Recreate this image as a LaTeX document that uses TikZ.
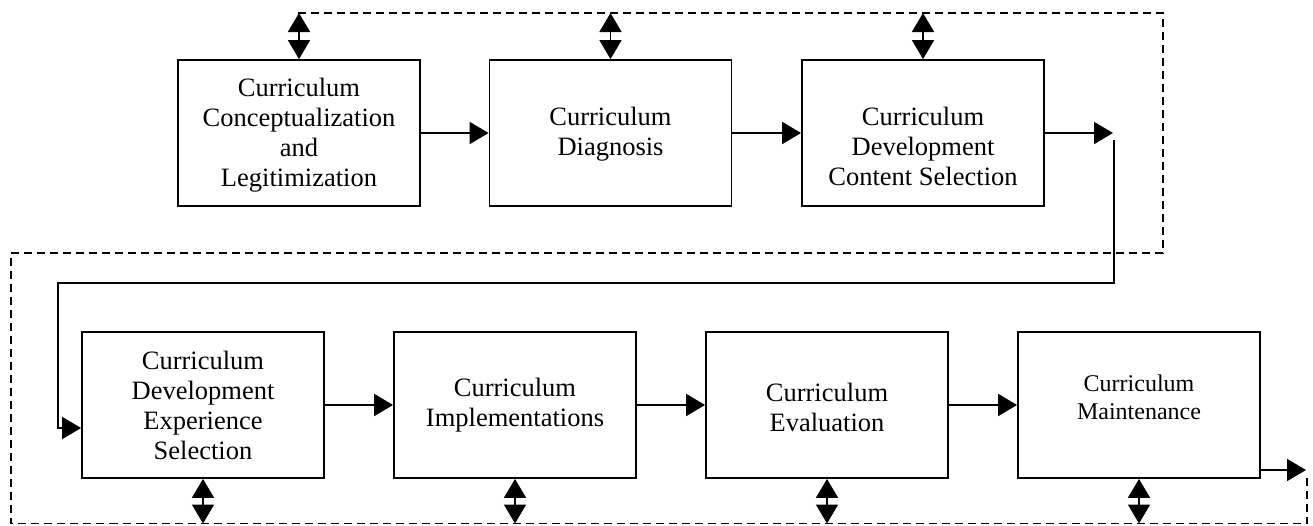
\documentclass[tikz,border=0pt]{standalone}
\usepackage{fontspec}
\setmainfont{Liberation Serif}
\usetikzlibrary{arrows.meta}
\begin{document}
\begin{tikzpicture}[x=1pt,y=-1pt,
  box/.style={draw,line width=1.8pt,minimum width=242pt,minimum height=146pt,inner sep=0pt},
  txt/.style={align=center,font=\fontsize{26.5}{30}\selectfont,inner sep=0pt},
  smalltxt/.style={align=center,font=\fontsize{24}{28}\selectfont,inner sep=0pt},
  flow/.style={line width=1.8pt,-{Triangle[length=19pt,width=22pt]}},
  both/.style={line width=1.8pt,{Triangle[length=19pt,width=22pt]}-{Triangle[length=19pt,width=22pt]}},
  loopline/.style={line width=1.5pt,dash pattern=on 8pt off 5pt}]
\useasboundingbox (0,0) rectangle (1313,525);

% process boxes
\node[box] (A) at (299,133) {};
\node[box] (B) at (610.5,133) {};
\node[box] (C) at (923,133) {};
\node[box] (D) at (203,405) {};
\node[box] (E) at (515,405) {};
\node[box] (F) at (827,405) {};
\node[box] (G) at (1139,405) {};

% box labels
\node[txt] (tA) at (299,135) {Curriculum\\Conceptualization\\and\\Legitimization};
\node[txt] (tB) at (610.5,134) {Curriculum\\Diagnosis};
\node[txt] (tC) at (923,146) {Curriculum\\Development\\Content Selection};
\node[txt] (tD) at (203,405) {Curriculum\\Development\\Experience\\Selection};
\node[txt] (tE) at (515,405) {Curriculum\\Implementations};
\node[txt] (tF) at (827,407) {Curriculum\\Evaluation};
\node[smalltxt] (tG) at (1139,397) {Curriculum\\Maintenance};

% dashed feedback loop corners
\coordinate (d0) at (298,13);
\coordinate (d1) at (1163,13);
\coordinate (d2) at (1163,253);
\coordinate (d3) at (11,253);
\coordinate (d4) at (11,523.5);
\coordinate (d5) at (1307,523.5);
\coordinate (d6) at (1307,477);
\draw[loopline] (d0) -- (d1) -- (d2) -- (d3) -- (d4) -- (d5) -- (d6);

% main flow, top row
\draw[flow] (A.east) -- (B.west);
\draw[flow] (B.east) -- (C.west);
\coordinate (cOut) at (1113,133);
\draw[flow] (C.east) -- (cOut);

% link down to the second row
\coordinate (r1) at (1114,140);
\coordinate (r2) at (1114,283);
\coordinate (r3) at (58,283);
\draw[flow] (r1) -- (r2) -- (r3) |- ([yshift=-23pt]D.west);

% main flow, bottom row
\draw[flow] (D.east) -- (E.west);
\draw[flow] (E.east) -- (F.west);
\draw[flow] (F.east) -- (G.west);
\coordinate (gOut) at (1306,470);
\draw[flow] ([yshift=-65pt]G.east) -- (gOut);

% two-way links to the feedback loop
\draw[both] (A.north |- d0) -- (A.north);
\draw[both] (B.north |- d0) -- (B.north);
\draw[both] (C.north |- d0) -- (C.north);
\draw[both] (D.south |- d4) -- (D.south);
\draw[both] (E.south |- d4) -- (E.south);
\draw[both] (F.south |- d4) -- (F.south);
\draw[both] (G.south |- d4) -- (G.south);
\end{tikzpicture}
\end{document}
